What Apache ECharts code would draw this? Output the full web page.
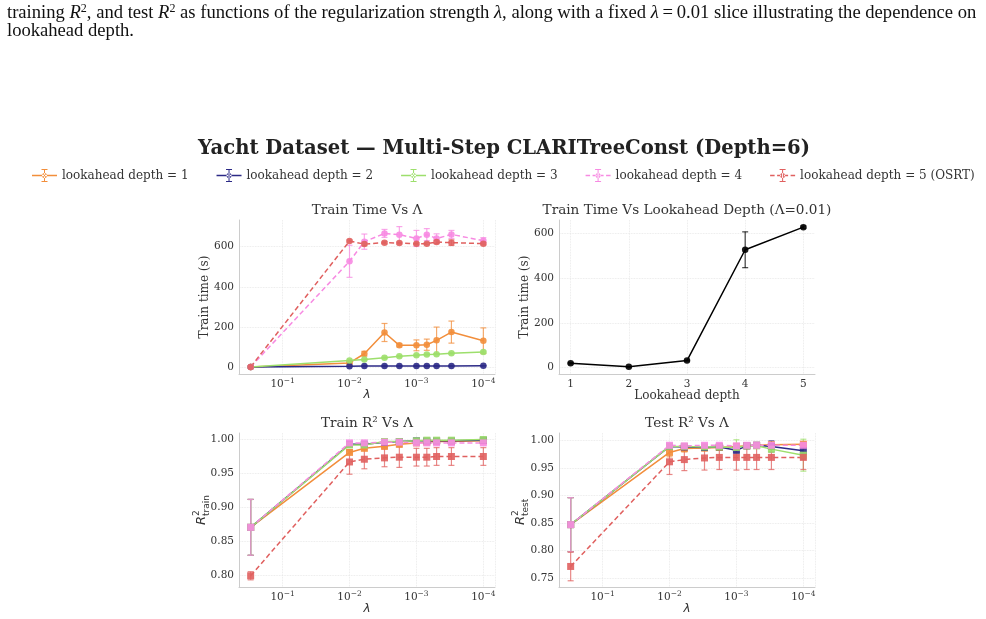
<!DOCTYPE html>
<html>
<head>
<meta charset="utf-8">
<script src="https://cdn.jsdelivr.net/npm/echarts@6/dist/echarts.min.js"></script>
<style>
  html, body { margin: 0; padding: 0; background: #fff; }
  #chart { width: 986px; height: 619px; }
</style>
</head>
<body>
<div id="chart"></div>
<script>
// regularization strengths (x of the three lambda panels)
const lambdas = [0.3, 0.01, 0.006, 0.003, 0.0018, 0.001, 0.0007, 0.0005, 0.0003, 0.0001];
const depths = [1, 2, 3, 4, 5];
const names = ['lookahead depth = 1', 'lookahead depth = 2', 'lookahead depth = 3',
  'lookahead depth = 4', 'lookahead depth = 5 (OSRT)'];

// train time (s), mean and std
const timeD1 = [0.5, 20, 66, 172, 108, 108, 111, 133, 174, 131];
const timeD1Err = [0.2, 3, 12, 45, 8, 27, 28, 66, 55, 64];
const timeD2 = [0.3, 4, 5, 5, 5, 5, 5, 5, 5, 6];
const timeD2Err = [0.1, 1, 1, 1, 1, 1, 1, 1, 1, 1];
const timeD3 = [0.4, 32, 37, 46, 53, 58, 62, 64, 68, 75];
const timeD3Err = [0.1, 2, 2, 3, 3, 3, 3, 3, 3, 4];
const timeD4 = [0.5, 527, 625, 666, 660, 641, 660, 641, 661, 630];
const timeD4Err = [0.2, 80, 38, 20, 40, 40, 30, 23, 20, 15];
const timeD5 = [0.5, 628, 613, 620, 618, 614, 615, 623, 620, 615];
const timeD5Err = [0.2, 5, 8, 6, 5, 5, 5, 8, 14, 6];

// train R^2
const trainD1 = [0.870, 0.980, 0.986, 0.989, 0.992, 0.994, 0.995, 0.996, 0.996, 0.997];
const trainD1Err = [0.041, 0.002, 0.002, 0.002, 0.002, 0.002, 0.002, 0.002, 0.002, 0.002];
const trainD2 = [0.870, 0.992, 0.992, 0.995, 0.996, 0.997, 0.997, 0.997, 0.997, 0.998];
const trainD2Err = [0.041, 0.001, 0.001, 0.001, 0.001, 0.001, 0.001, 0.001, 0.001, 0.001];
const trainD3 = [0.870, 0.991, 0.991, 0.996, 0.996, 0.997, 0.998, 0.998, 0.998, 0.999];
const trainD3Err = [0.041, 0.001, 0.001, 0.001, 0.001, 0.001, 0.001, 0.001, 0.001, 0.001];
const trainD4 = [0.870, 0.994, 0.994, 0.995, 0.995, 0.994, 0.994, 0.994, 0.994, 0.994];
const trainD4Err = [0.041, 0.001, 0.001, 0.001, 0.001, 0.001, 0.001, 0.001, 0.001, 0.001];
const trainD5 = [0.799, 0.966, 0.970, 0.972, 0.973, 0.973, 0.973, 0.974, 0.974, 0.974];
const trainD5Err = [0.006, 0.018, 0.014, 0.013, 0.015, 0.013, 0.013, 0.013, 0.013, 0.013];

// test R^2
const testD1 = [0.847, 0.978, 0.985, 0.986, 0.987, 0.989, 0.990, 0.991, 0.992, 0.993];
const testD1Err = [0.049, 0.008, 0.006, 0.005, 0.005, 0.004, 0.003, 0.003, 0.003, 0.004];
const testD2 = [0.847, 0.989, 0.988, 0.987, 0.988, 0.982, 0.990, 0.991, 0.989, 0.981];
const testD2Err = [0.049, 0.003, 0.003, 0.003, 0.003, 0.005, 0.003, 0.003, 0.010, 0.015];
const testD3 = [0.847, 0.989, 0.989, 0.988, 0.988, 0.987, 0.990, 0.990, 0.984, 0.973];
const testD3Err = [0.049, 0.004, 0.004, 0.004, 0.004, 0.014, 0.004, 0.004, 0.005, 0.029];
const testD4 = [0.847, 0.991, 0.990, 0.991, 0.991, 0.990, 0.991, 0.991, 0.991, 0.991];
const testD4Err = [0.049, 0.003, 0.003, 0.003, 0.003, 0.003, 0.003, 0.003, 0.003, 0.003];
const testD5 = [0.771, 0.961, 0.965, 0.968, 0.969, 0.969, 0.969, 0.969, 0.969, 0.969];
const testD5Err = [0.026, 0.023, 0.020, 0.022, 0.022, 0.023, 0.022, 0.022, 0.022, 0.022];

// tick values
const timeTicks = [0, 200, 400, 600];
const depthTicks = [1, 2, 3, 4, 5];
const trainTicks = [0.80, 0.85, 0.90, 0.95, 1.00];
const testTicks = [0.75, 0.80, 0.85, 0.90, 0.95, 1.00];

const timeMeans = [timeD1, timeD2, timeD3, timeD4, timeD5];
const timeErrs = [timeD1Err, timeD2Err, timeD3Err, timeD4Err, timeD5Err];
const trainMeans = [trainD1, trainD2, trainD3, trainD4, trainD5];
const trainErrs = [trainD1Err, trainD2Err, trainD3Err, trainD4Err, trainD5Err];
const testMeans = [testD1, testD2, testD3, testD4, testD5];
const testErrs = [testD1Err, testD2Err, testD3Err, testD4Err, testD5Err];

// lambda = 0.01 slice for the depth panel
const sliceIdx = lambdas.indexOf(0.01);
const sliceTime = timeMeans.map(a => a[sliceIdx]);
const sliceErr = timeErrs.map(a => a[sliceIdx]);

const colors = ['#f28e3b', '#2c2a86', '#9ddf6c', '#f78ae2', '#e0605f'];
const dashed = [false, false, false, true, true];
const SERIF = 'DejaVu Serif';
const TXT = '#333333';

const chart = echarts.init(document.getElementById('chart'));

const grids = [
  { left: 239, top: 220, width: 256, height: 154 },
  { left: 559, top: 220, width: 256, height: 154 },
  { left: 239, top: 433, width: 256, height: 154 },
  { left: 559, top: 433, width: 256, height: 154 }
];

const supRich = {
  b: { fontFamily: SERIF, fontSize: 10.5, color: TXT, verticalAlign: 'bottom', lineHeight: 13 },
  s: { fontFamily: SERIF, fontSize: 7.5, color: TXT, verticalAlign: 'top', lineHeight: 13 }
};

function lamFormatter(v) {
  const e = Math.log10(v);
  if (Math.abs(e - Math.round(e)) > 1e-6) return '';
  return '{b|10}{s|\u2212' + Math.abs(Math.round(e)) + '}';
}

const splitStyle = { show: true, lineStyle: { color: '#e4e4e4', type: 'dotted', width: 0.8 } };
const lineSpine = { show: true, onZero: false, lineStyle: { color: '#cccccc', width: 1 } };

function lamAxis(gi) {
  return {
    type: 'log', logBase: 10, gridIndex: gi, inverse: true,
    min: 6.7e-5, max: 0.448,
    axisLine: lineSpine, axisTick: { show: false }, splitLine: splitStyle,
    axisLabel: { margin: 3, formatter: lamFormatter, rich: supRich, showMinLabel: false, showMaxLabel: false }
  };
}

function valAxis(gi, min, max, ticks, digits) {
  return {
    type: 'value', gridIndex: gi, min: min, max: max,
    axisLine: lineSpine,
    axisTick: { show: false, customValues: ticks },
    splitLine: splitStyle,
    axisLabel: {
      customValues: ticks, margin: 5, fontFamily: SERIF, fontSize: 10.5, color: TXT,
      formatter: v => v.toFixed(digits)
    }
  };
}

function errRender(params, api) {
  const x = api.value(0);
  const p1 = api.coord([x, api.value(1)]);
  const p2 = api.coord([x, api.value(2)]);
  const w = 3;
  const style = { stroke: api.visual('color'), lineWidth: 1.2, opacity: 0.75 };
  return {
    type: 'group',
    children: [
      { type: 'line', shape: { x1: p1[0], y1: p1[1], x2: p2[0], y2: p2[1] }, style: style },
      { type: 'line', shape: { x1: p1[0] - w, y1: p1[1], x2: p1[0] + w, y2: p1[1] }, style: style },
      { type: 'line', shape: { x1: p2[0] - w, y1: p2[1], x2: p2[0] + w, y2: p2[1] }, style: style }
    ]
  };
}

function addSeries(list, name, gi, xs, ys, es, color, dash, symbol, size) {
  list.push({
    name: name, type: 'custom', xAxisIndex: gi, yAxisIndex: gi,
    renderItem: errRender, itemStyle: { color: color },
    encode: { x: 0, y: [1, 2] },
    data: xs.map((x, i) => [x, ys[i] - es[i], ys[i] + es[i]]),
    silent: true
  });
  list.push({
    name: name, type: 'line', xAxisIndex: gi, yAxisIndex: gi,
    data: xs.map((x, i) => [x, ys[i]]),
    symbol: symbol, symbolSize: size, showSymbol: true,
    itemStyle: { color: color, opacity: 0.9 },
    lineStyle: { color: color, width: 1.5, type: dash ? [5, 3] : 'solid' },
    animation: false
  });
}

const series = [];
for (let k = 0; k < 5; k++) {
  addSeries(series, names[k], 0, lambdas, timeMeans[k], timeErrs[k], colors[k], dashed[k], 'circle', 6.5);
}
addSeries(series, 'slice', 1, depths, sliceTime, sliceErr, '#000000', false, 'circle', 6.5);
for (let k = 0; k < 5; k++) {
  addSeries(series, names[k], 2, lambdas, trainMeans[k], trainErrs[k], colors[k], dashed[k], 'rect', 7);
}
for (let k = 0; k < 5; k++) {
  addSeries(series, names[k], 3, lambdas, testMeans[k], testErrs[k], colors[k], dashed[k], 'rect', 7);
}

// legend icons: line + error bar + marker (dashed variant for depth 4/5)
const iconSolid = 'path://M0,12.5L50,12.5L50,15.5L0,15.5Z M24,1L26,1L26,27L24,27Z M19,1L31,1L31,3L19,3Z M19,25L31,25L31,27L19,27Z M20,14A5,5 0 1,0 30,14A5,5 0 1,0 20,14Z';
const iconDash = 'path://M0,12.5L9,12.5L9,15.5L0,15.5Z M14,12.5L22,12.5L22,15.5L14,15.5Z M28,12.5L36,12.5L36,15.5L28,15.5Z M41,12.5L50,12.5L50,15.5L41,15.5Z M24,1L26,1L26,27L24,27Z M19,1L31,1L31,3L19,3Z M19,25L31,25L31,27L19,27Z M20,14A5,5 0 1,0 30,14A5,5 0 1,0 20,14Z';

function txt(x, y, text, font, extra, fill) {
  return Object.assign({
    type: 'text', x: x, y: y, silent: true,
    style: { text: text, font: font, fill: fill || TXT, align: 'center', verticalAlign: 'middle' }
  }, extra || {});
}

const CAP = 18.6;
const capRich = {
  i: { fontFamily: 'Liberation Serif', fontStyle: 'italic', fontSize: CAP, color: '#111' },
  s: { fontFamily: 'Liberation Serif', fontSize: 12, verticalAlign: 'top', lineHeight: 20, color: '#111' }
};

const graphics = [
  {
    type: 'text', x: 7, y: 13, silent: true,
    style: {
      text: 'training {i|R}{s|2}, and test {i|R}{s|2} as functions of the regularization strength {i|\u03bb}, along with a fixed {i|\u03bb}\u2009=\u20090.01 slice illustrating the dependence on',
      font: CAP + 'px Liberation Serif', fill: '#111', align: 'left', verticalAlign: 'middle', rich: capRich
    }
  },
  {
    type: 'text', x: 7, y: 31, silent: true,
    style: { text: 'lookahead depth.', font: CAP + 'px Liberation Serif', fill: '#111', align: 'left', verticalAlign: 'middle' }
  },
  txt(504, 149, 'Yacht Dataset \u2014 Multi-Step CLARITreeConst (Depth=6)', 'bold 19.6px ' + SERIF, null, '#222'),
  txt(367, 210, 'Train Time Vs \u039b', '13.6px ' + SERIF),
  txt(687, 210, 'Train Time Vs Lookahead Depth (\u039b=0.01)', '13.6px ' + SERIF),
  txt(367, 423, 'Train R\u00b2 Vs \u039b', '13.6px ' + SERIF),
  txt(687, 423, 'Test R\u00b2 Vs \u039b', '13.6px ' + SERIF),
  txt(205, 297, 'Train time (s)', '12px ' + SERIF, { rotation: Math.PI / 2 }),
  txt(525, 297, 'Train time (s)', '12px ' + SERIF, { rotation: Math.PI / 2 }),
  txt(367, 395, '\u03bb', 'italic 12px DejaVu Sans'),
  txt(687, 396, 'Lookahead depth', '12px ' + SERIF),
  txt(367, 609, '\u03bb', 'italic 12px DejaVu Sans'),
  txt(687, 609, '\u03bb', 'italic 12px DejaVu Sans')
];

function r2Label(x, y, sub) {
  return {
    type: 'group', x: x, y: y, rotation: Math.PI / 2, silent: true,
    children: [
      { type: 'text', x: -15, y: 0, style: { text: 'R', font: 'italic 13px DejaVu Sans', fill: TXT, align: 'left', verticalAlign: 'middle' } },
      { type: 'text', x: -6, y: -5, style: { text: '2', font: '9px DejaVu Sans', fill: TXT, align: 'left', verticalAlign: 'middle' } },
      { type: 'text', x: -6, y: 5, style: { text: sub, font: '9px DejaVu Sans', fill: TXT, align: 'left', verticalAlign: 'middle' } }
    ]
  };
}
graphics.push(r2Label(202, 510, 'train'));
graphics.push(r2Label(521, 510, 'test'));

const option = {
  backgroundColor: '#ffffff',
  animation: false,
  textStyle: { fontFamily: SERIF },
  legend: {
    data: names.map((n, k) => ({ name: n, icon: dashed[k] ? iconDash : iconSolid })),
    top: 164, left: 27,
    itemWidth: 25, itemHeight: 14, itemGap: 28,
    textStyle: { fontFamily: SERIF, fontSize: 12, color: TXT }
  },
  grid: grids,
  xAxis: [
    lamAxis(0),
    valAxis(1, 0.8, 5.2, depthTicks, 0),
    lamAxis(2),
    lamAxis(3)
  ],
  yAxis: [
    valAxis(0, -35, 733, timeTicks, 0),
    valAxis(1, -28, 660, timeTicks, 0),
    valAxis(2, 0.7825, 1.0085, trainTicks, 2),
    valAxis(3, 0.7337, 1.0133, testTicks, 2)
  ],
  graphic: graphics,
  series: series
};

chart.setOption(option);
</script>
</body>
</html>
